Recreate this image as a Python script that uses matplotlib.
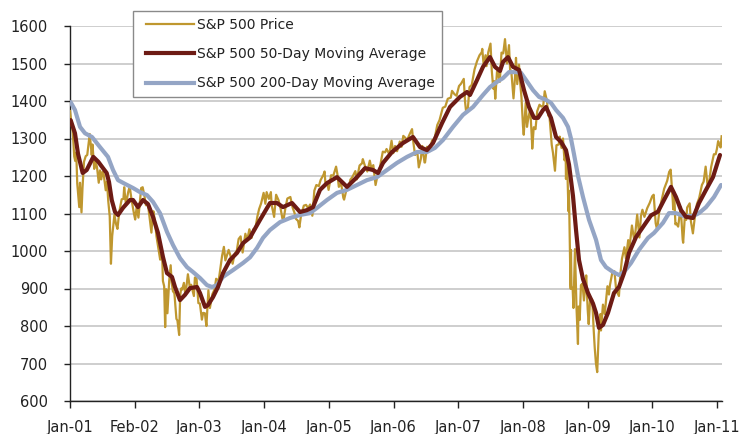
import numpy as np
import matplotlib
matplotlib.use("Agg")
import matplotlib.pyplot as plt
from matplotlib.lines import Line2D
from matplotlib.legend_handler import HandlerLine2D

# ---------------- data ----------------
x_tick_labels = ["Jan-01", "Feb-02", "Jan-03", "Jan-04", "Jan-05", "Jan-06",
                 "Jan-07", "Jan-08", "Jan-09", "Jan-10", "Jan-11"]
y_ticks = [600, 700, 800, 900, 1000, 1100, 1200, 1300, 1400, 1500, 1600]

# S&P 500 price (date, close)
price_dates = [
    "2001-01-30","2001-02-07","2001-02-14","2001-02-22","2001-02-28","2001-03-06","2001-03-12","2001-03-16",
    "2001-03-22","2001-03-27","2001-04-04","2001-04-10","2001-04-18","2001-04-27","2001-05-07","2001-05-21",
    "2001-05-31","2001-06-05","2001-06-14","2001-06-21","2001-06-29","2001-07-10","2001-07-17","2001-07-24",
    "2001-07-31","2001-08-07","2001-08-17","2001-08-24","2001-08-31","2001-09-10","2001-09-20","2001-09-21",
    "2001-09-28","2001-10-11","2001-10-19","2001-10-29","2001-11-07","2001-11-21","2001-11-30","2001-12-05",
    "2001-12-14","2001-12-27",
    "2002-01-04","2002-01-15","2002-01-29","2002-02-05","2002-02-13","2002-02-22","2002-03-04","2002-03-11",
    "2002-03-19","2002-03-28","2002-04-05","2002-04-16","2002-04-25","2002-05-07","2002-05-14","2002-05-17",
    "2002-05-28","2002-06-04","2002-06-14","2002-06-25","2002-06-28","2002-07-05","2002-07-10","2002-07-17",
    "2002-07-23","2002-07-29","2002-08-05","2002-08-14","2002-08-22","2002-08-28","2002-09-04","2002-09-12",
    "2002-09-19","2002-09-24","2002-09-30","2002-10-09","2002-10-15","2002-10-21","2002-10-25","2002-11-05",
    "2002-11-13","2002-11-27","2002-12-06","2002-12-16","2002-12-24","2002-12-31",
    "2003-01-06","2003-01-14","2003-01-24","2003-02-03","2003-02-13","2003-02-20","2003-03-03","2003-03-11",
    "2003-03-21","2003-03-31","2003-04-14","2003-04-25","2003-05-05","2003-05-19","2003-05-30","2003-06-06",
    "2003-06-17","2003-06-25","2003-07-14","2003-07-23","2003-08-05","2003-08-14","2003-08-28","2003-09-08",
    "2003-09-18","2003-09-30","2003-10-15","2003-10-24","2003-11-06","2003-11-19","2003-11-28","2003-12-10",
    "2003-12-22","2003-12-31",
    "2004-01-12","2004-01-26","2004-02-04","2004-02-11","2004-02-24","2004-03-05","2004-03-10","2004-03-24",
    "2004-04-05","2004-04-19","2004-04-29","2004-05-10","2004-05-17","2004-05-26","2004-06-07","2004-06-23",
    "2004-07-06","2004-07-16","2004-07-23","2004-08-05","2004-08-12","2004-08-23","2004-09-07","2004-09-20",
    "2004-09-30","2004-10-12","2004-10-25","2004-11-04","2004-11-16","2004-11-30","2004-12-09","2004-12-27",
    "2004-12-31",
    "2005-01-05","2005-01-14","2005-01-24","2005-02-07","2005-02-18","2005-03-07","2005-03-14","2005-03-22",
    "2005-04-04","2005-04-15","2005-04-20","2005-05-03","2005-05-16","2005-05-25","2005-06-06","2005-06-22",
    "2005-06-30","2005-07-15","2005-07-29","2005-08-03","2005-08-12","2005-08-29","2005-09-12","2005-09-20",
    "2005-09-30","2005-10-13","2005-10-24","2005-11-07","2005-11-23","2005-12-06","2005-12-14","2005-12-29",
    "2006-01-11","2006-01-20","2006-01-31","2006-02-10","2006-02-27","2006-03-08","2006-03-17","2006-03-29",
    "2006-04-07","2006-04-21","2006-05-05","2006-05-12","2006-05-23","2006-06-05","2006-06-13","2006-06-23",
    "2006-07-03","2006-07-14","2006-07-18","2006-07-28","2006-08-11","2006-08-25","2006-09-08","2006-09-25",
    "2006-10-06","2006-10-25","2006-11-08","2006-11-22","2006-12-08","2006-12-15","2006-12-29",
    "2007-01-10","2007-01-24","2007-02-05","2007-02-20","2007-02-27","2007-03-05","2007-03-14","2007-03-23",
    "2007-04-05","2007-04-20","2007-05-04","2007-05-18","2007-05-31","2007-06-04","2007-06-12","2007-06-21",
    "2007-06-27","2007-07-06","2007-07-19","2007-07-26","2007-08-03","2007-08-09","2007-08-15","2007-08-24",
    "2007-08-31","2007-09-10","2007-09-19","2007-09-28","2007-10-09","2007-10-19","2007-10-31","2007-11-07",
    "2007-11-13","2007-11-26","2007-12-04","2007-12-10","2007-12-17","2007-12-26",
    "2008-01-02","2008-01-09","2008-01-17","2008-01-22","2008-02-01","2008-02-08","2008-02-14","2008-02-27",
    "2008-03-07","2008-03-10","2008-03-18","2008-03-27","2008-04-07","2008-04-18","2008-04-30","2008-05-09",
    "2008-05-19","2008-05-30","2008-06-06","2008-06-13","2008-06-26","2008-07-03","2008-07-15","2008-07-23",
    "2008-08-05","2008-08-11","2008-08-20","2008-08-28","2008-09-05","2008-09-12","2008-09-15","2008-09-19",
    "2008-09-29","2008-10-01","2008-10-09","2008-10-10","2008-10-13","2008-10-15","2008-10-22","2008-10-27",
    "2008-11-04","2008-11-12","2008-11-20","2008-11-24","2008-12-01","2008-12-08","2008-12-16","2008-12-24",
    "2008-12-31",
    "2009-01-06","2009-01-14","2009-01-20","2009-01-28","2009-02-09","2009-02-17","2009-02-23","2009-03-02",
    "2009-03-09","2009-03-17","2009-03-26","2009-03-30","2009-04-09","2009-04-20","2009-05-05","2009-05-13",
    "2009-05-19","2009-06-02","2009-06-12","2009-06-23","2009-07-08","2009-07-15","2009-07-24","2009-08-07",
    "2009-08-17","2009-08-28","2009-09-02","2009-09-18","2009-10-02","2009-10-19","2009-10-30","2009-11-09",
    "2009-11-17","2009-11-27","2009-12-14","2009-12-28",
    "2010-01-11","2010-01-19","2010-01-29","2010-02-08","2010-02-19","2010-03-05","2010-03-18","2010-04-05",
    "2010-04-15","2010-04-23","2010-05-06","2010-05-07","2010-05-13","2010-05-20","2010-05-25","2010-06-04",
    "2010-06-18","2010-06-30","2010-07-02","2010-07-13","2010-07-20","2010-07-26","2010-08-09","2010-08-16",
    "2010-08-26","2010-09-07","2010-09-17","2010-09-30","2010-10-15","2010-10-26","2010-11-05","2010-11-16",
    "2010-11-26","2010-12-07","2010-12-22","2010-12-31",
    "2011-01-07","2011-01-14","2011-01-21","2011-01-28","2011-02-03",
]
price_values = [
    1373,1340,1318,1252,1240,1263,1180,1150,
    1117,1182,1103,1168,1238,1253,1256,1312,
    1256,1284,1219,1238,1224,1182,1215,1191,
    1211,1204,1162,1185,1134,1092,985,966,
    1040,1097,1073,1059,1103,1138,1139,1170,
    1124,1157,
    1172,1139,1100,1084,1118,1089,1131,1168,
    1170,1147,1122,1129,1093,1049,1097,1106,
    1074,1040,1007,977,990,989,920,906,
    797,898,834,919,962,917,893,887,
    843,819,815,776,881,900,897,915,
    882,938,906,910,893,880,
    929,931,861,860,817,835,834,800,
    895,848,885,898,926,920,964,988,
    1011,975,1003,988,966,990,1002,1032,
    1039,996,1046,1028,1058,1035,1058,1060,
    1092,1112,
    1127,1155,1126,1157,1139,1157,1123,1091,
    1150,1135,1113,1087,1084,1114,1140,1144,
    1116,1101,1086,1080,1063,1096,1121,1123,
    1114,1124,1094,1161,1176,1173,1189,1204,
    1212,
    1183,1184,1163,1202,1201,1225,1206,1171,
    1181,1142,1137,1162,1165,1190,1197,1213,
    1191,1228,1234,1245,1230,1212,1241,1221,
    1229,1176,1199,1222,1265,1263,1272,1258,
    1294,1261,1280,1266,1292,1278,1307,1302,
    1295,1311,1325,1291,1256,1265,1223,1245,
    1280,1236,1236,1278,1266,1295,1299,1336,
    1349,1382,1385,1406,1409,1427,1418,
    1414,1440,1446,1459,1399,1374,1377,1437,
    1443,1484,1506,1522,1530,1539,1493,1522,
    1493,1530,1553,1482,1433,1453,1406,1479,
    1473,1451,1529,1527,1565,1500,1549,1475,
    1481,1407,1462,1515,1445,1497,
    1447,1409,1333,1310,1395,1331,1349,1380,
    1293,1273,1330,1325,1373,1390,1385,1388,
    1426,1400,1361,1360,1283,1262,1214,1282,
    1284,1305,1275,1300,1242,1252,1192,1255,
    1106,1161,910,899,1003,907,896,848,
    1005,852,752,852,816,909,913,868,
    903,
    935,843,805,874,870,789,743,700,
    677,778,832,788,857,832,906,884,
    909,944,946,895,880,932,979,1010,
    980,1029,995,1068,1025,1097,1036,1093,
    1110,1091,1114,1128,
    1146,1150,1074,1056,1109,1139,1166,1187,
    1211,1217,1128,1111,1157,1071,1074,1065,
    1117,1031,1022,1095,1083,1116,1127,1079,
    1047,1092,1125,1141,1176,1185,1225,1178,
    1189,1224,1258,1258,
    1272,1293,1283,1276,1306,
]

# 50-day moving average, positions (axis units: one unit per labelled tick)
ma50_pos = [0.01,0.077,0.124,0.196,0.258,0.36,0.437,0.51,0.567,0.603,0.645,0.696,0.742,0.819,0.927,0.974,
            1.051,1.128,1.206,1.283,1.36,1.437,1.499,1.576,1.623,1.7,1.777,1.855,1.963,2.009,2.087,2.133,
            2.21,2.287,2.365,2.473,2.581,2.674,2.782,2.937,3.091,3.199,3.292,3.431,3.555,3.663,3.756,3.864,
            3.972,4.127,4.281,4.436,4.56,4.683,4.76,4.838,4.977,5.147,5.301,5.41,5.518,5.611,5.75,5.873,
            6.028,6.136,6.182,6.291,6.383,6.491,6.569,6.646,6.692,6.77,6.847,6.94,7.017,7.094,7.172,7.233,
            7.311,7.357,7.434,7.512,7.589,7.666,7.713,7.774,7.821,7.867,7.929,8.006,8.083,8.13,8.176,8.238,
            8.315,8.408,8.485,8.563,8.64,8.748,8.856,8.98,9.088,9.181,9.289,9.366,9.444,9.521,9.629,9.722,
            9.83,9.938,10.046]
ma50_values = [1349,1314,1259,1208,1216,1251,1238,1221,1208,1184,1136,1104,1096,1115,1136,1136,
               1117,1136,1125,1091,1048,984,941,931,904,869,883,901,904,888,851,856,
               877,904,941,976,995,1021,1036,1083,1128,1128,1117,1128,1104,1109,1117,1163,
               1181,1197,1171,1197,1221,1216,1208,1235,1264,1288,1304,1277,1269,1288,1341,1384,
               1411,1424,1416,1456,1491,1517,1491,1480,1504,1517,1491,1483,1429,1384,1355,1355,
               1376,1384,1355,1304,1291,1269,1230,1147,1056,976,925,888,860,835,795,803,
               835,888,904,941,995,1037,1064,1095,1105,1136,1171,1144,1109,1091,1088,1128,
               1163,1197,1256]

# 200-day moving average
ma200_pos = [0.01,0.077,0.155,0.232,0.34,0.464,0.587,0.665,0.742,0.85,0.974,1.082,1.19,1.283,1.391,1.499,
             1.592,1.7,1.808,1.901,2.009,2.117,2.195,2.272,2.365,2.519,2.674,2.782,2.89,2.983,3.091,3.246,
             3.4,3.555,3.709,3.818,3.972,4.127,4.281,4.436,4.59,4.745,4.9,5.054,5.209,5.363,5.518,5.641,
             5.765,5.92,6.074,6.229,6.383,6.491,6.6,6.692,6.785,6.893,6.971,7.048,7.156,7.249,7.357,7.434,
             7.512,7.62,7.697,7.743,7.79,7.852,7.929,8.022,8.13,8.207,8.284,8.393,8.485,8.563,8.671,8.794,
             8.934,9.026,9.165,9.258,9.366,9.49,9.629,9.722,9.83,9.954,10.062]
ma200_values = [1397,1376,1331,1314,1304,1277,1251,1216,1189,1179,1168,1157,1149,1131,1101,1051,
                1016,981,957,944,928,909,904,909,931,949,968,983,1008,1035,1056,1077,
                1088,1096,1101,1115,1136,1155,1163,1176,1189,1197,1216,1235,1251,1264,1264,1275,
                1296,1331,1363,1384,1416,1437,1451,1461,1477,1477,1475,1456,1429,1411,1403,1395,
                1376,1355,1331,1300,1258,1200,1144,1083,1030,976,957,944,936,944,968,1003,
                1035,1048,1075,1101,1101,1093,1093,1101,1117,1144,1176]

labels = ["S&P 500 Price", "S&P 500 50-Day Moving Average", "S&P 500 200-Day Moving Average"]
colors = ["#BF972F", "#6D1B14", "#94A5C5"]


def trading_position(d):
    # category axis: one labelled tick every 250 trading days, starting 2001-01-30
    days = np.busday_count("2001-01-30", d) * 252.0 / 261.0
    if d >= "2001-09-17":
        days -= 4
    return days / 250.0


price_pos = [trading_position(d) for d in price_dates]

# ---------------- plot ----------------
W, H = 746, 434
fig = plt.figure(figsize=(W / 100, H / 100), dpi=100)
ax = fig.add_axes([70 / W, (H - 401) / H, (722 - 70) / W, (401 - 26) / H])

font = "DejaVu Sans"
plt.rcParams["font.family"] = font

ax.plot(price_pos, price_values, color=colors[0], lw=1.6, label=labels[0], zorder=3,
        solid_joinstyle="round")
ax.plot(ma200_pos, ma200_values, color=colors[2], lw=3.0, label=labels[2], zorder=4,
        solid_capstyle="round")
ax.plot(ma50_pos, ma50_values, color=colors[1], lw=3.0, label=labels[1], zorder=5,
        solid_capstyle="round")

ax.set_xlim(0, (722 - 70) / 64.7)
ax.set_ylim(600, 1600)
ax.set_xticks(range(len(x_tick_labels)))
ax.set_xticklabels(x_tick_labels)
ax.set_yticks(y_ticks)
ax.yaxis.grid(True, color="#CACACA", lw=1.3)
ax.set_axisbelow(True)
for s in ["top", "right"]:
    ax.spines[s].set_visible(False)
for s in ["left", "bottom"]:
    ax.spines[s].set_color("#222222")
    ax.spines[s].set_linewidth(1.0)
ax.tick_params(axis="y", length=4, width=1, color="#222222", pad=12, labelsize=10.5,
               labelcolor="#222222")
ax.tick_params(axis="x", length=5, width=1, color="#222222", pad=9, labelsize=10.5,
               labelcolor="#222222")
for lab in ax.get_xticklabels() + ax.get_yticklabels():
    lab.set_fontfamily(font)

handles = [Line2D([], [], color=colors[0], lw=1.6),
           Line2D([], [], color=colors[1], lw=3.0),
           Line2D([], [], color=colors[2], lw=3.0)]
leg = fig.legend(handles, labels, loc="upper left", bbox_to_anchor=(133 / W, 1 - 11 / H),
                 bbox_transform=fig.transFigure, borderaxespad=0, frameon=True, fancybox=False,
                 edgecolor="#8A8A8A", framealpha=1, handlelength=3.9, handletextpad=0.2,
                 labelspacing=1.1, borderpad=0.5, prop={"family": font, "size": 10},
                 handler_map={Line2D: HandlerLine2D(xpad=0.45)})
leg.get_frame().set_linewidth(1.0)
for t in leg.get_texts():
    t.set_color("#222222")

fig.savefig("out.png", dpi=100)
